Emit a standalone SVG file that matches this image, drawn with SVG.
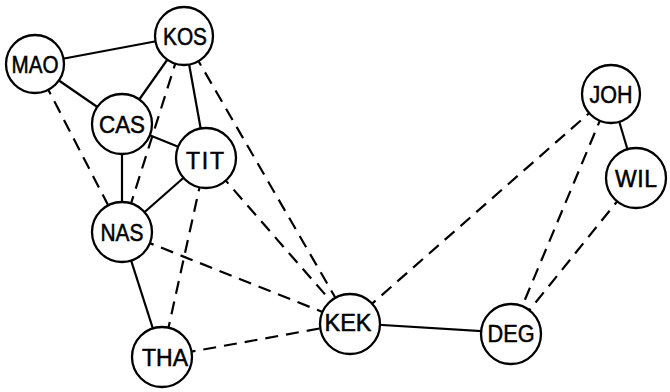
<svg xmlns="http://www.w3.org/2000/svg" width="670" height="392" viewBox="0 0 670 392">
<style>
.bg{fill:#fff}
.s{stroke:#000;stroke-width:2.2;fill:none}
.d{stroke:#000;stroke-width:2.2;fill:none;stroke-dasharray:13 8}
.n circle{fill:#fff;stroke:#000;stroke-width:2.3}
.n text{font-family:"Liberation Sans",Arial,sans-serif;font-size:23px;text-anchor:middle;fill:#000;stroke:#000;stroke-width:0.5}
</style>
<rect class="bg" x="0" y="0" width="670" height="392"/>
<g id="connectors">
<line class="s" x1="35" y1="64" x2="184" y2="36"/>
<line class="s" x1="35" y1="64" x2="122" y2="124"/>
<line class="s" x1="184" y1="36" x2="122" y2="124"/>
<line class="s" x1="184" y1="36" x2="206" y2="158"/>
<line class="s" x1="122" y1="124" x2="206" y2="158"/>
<line class="s" x1="122" y1="124" x2="122" y2="232"/>
<line class="s" x1="206" y1="158" x2="122" y2="232"/>
<line class="s" x1="122" y1="232" x2="162" y2="357"/>
<line class="s" x1="350" y1="323" x2="511" y2="333"/>
<line class="s" x1="611" y1="94" x2="636" y2="178"/>
<line class="d" x1="35" y1="64" x2="122" y2="232"/>
<line class="d" x1="184" y1="36" x2="122" y2="232"/>
<line class="d" x1="184" y1="36" x2="350" y2="323"/>
<line class="d" x1="206" y1="158" x2="350" y2="323"/>
<line class="d" x1="206" y1="158" x2="162" y2="357"/>
<line class="d" x1="122" y1="232" x2="350" y2="323"/>
<line class="d" x1="162" y1="357" x2="350" y2="323"/>
<line class="d" x1="350" y1="323" x2="611" y2="94"/>
<line class="d" x1="611" y1="94" x2="511" y2="333"/>
<line class="d" x1="636" y1="178" x2="511" y2="333"/>
</g>
<g id="MAO" class="n"><circle cx="35" cy="64" r="29"/><text x="35" y="72.5" textLength="47" lengthAdjust="spacingAndGlyphs">MAO</text></g>
<g id="KOS" class="n"><circle cx="184" cy="36" r="29"/><text x="185" y="44.5" textLength="44" lengthAdjust="spacingAndGlyphs">KOS</text></g>
<g id="CAS" class="n"><circle cx="122" cy="124" r="30"/><text x="122" y="132.5" textLength="46" lengthAdjust="spacingAndGlyphs">CAS</text></g>
<g id="TIT" class="n"><circle cx="206" cy="158" r="30"/><text x="205" y="169" textLength="38" lengthAdjust="spacing">TIT</text></g>
<g id="NAS" class="n"><circle cx="122" cy="232" r="30"/><text x="122" y="240.5" textLength="43" lengthAdjust="spacingAndGlyphs">NAS</text></g>
<g id="THA" class="n"><circle cx="162" cy="357" r="30"/><text x="165" y="365.5" textLength="46" lengthAdjust="spacingAndGlyphs">THA</text></g>
<g id="KEK" class="n"><circle cx="350" cy="324" r="30"/><text x="348" y="331" textLength="47" lengthAdjust="spacingAndGlyphs">KEK</text></g>
<g id="DEG" class="n"><circle cx="511" cy="334" r="30"/><text x="511" y="342" textLength="47" lengthAdjust="spacingAndGlyphs">DEG</text></g>
<g id="JOH" class="n"><circle cx="611" cy="94" r="29"/><text x="611" y="102.5" textLength="43" lengthAdjust="spacingAndGlyphs">JOH</text></g>
<g id="WIL" class="n"><circle cx="636" cy="178" r="30"/><text x="636" y="187" textLength="42" lengthAdjust="spacing">WIL</text></g>
</svg>
